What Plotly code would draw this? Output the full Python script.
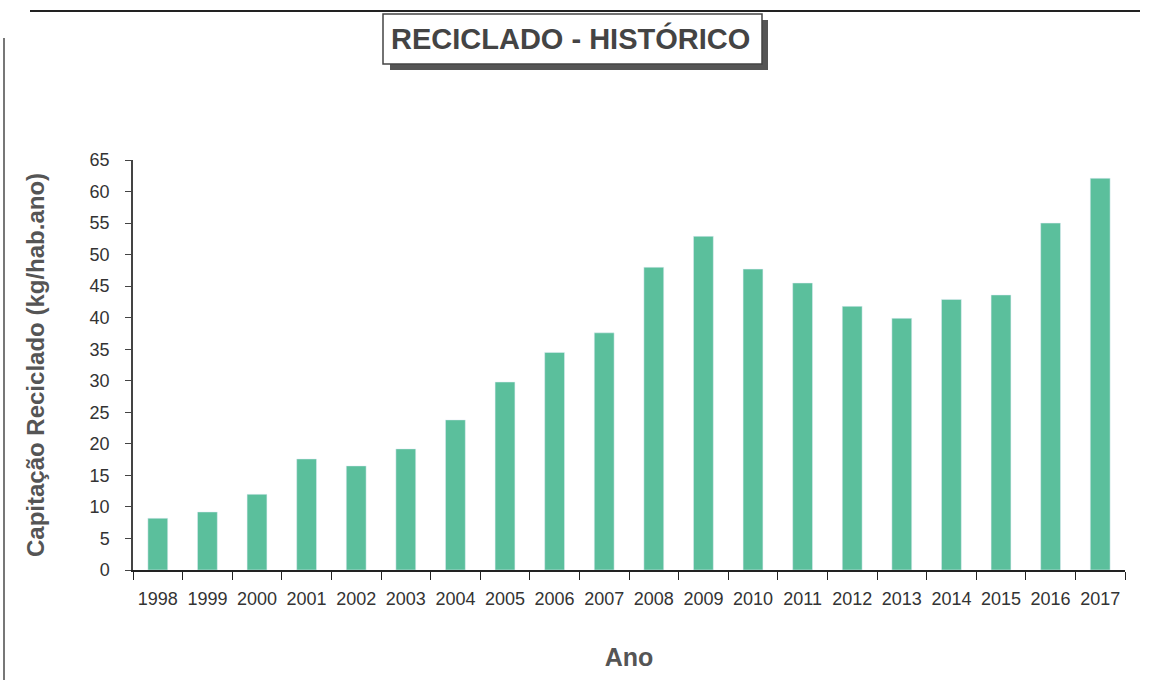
import plotly.graph_objects as go

anos = ["1998", "1999", "2000", "2001", "2002", "2003", "2004", "2005", "2006", "2007",
        "2008", "2009", "2010", "2011", "2012", "2013", "2014", "2015", "2016", "2017"]
capitacao = [8.2, 9.2, 12.0, 17.6, 16.5, 19.2, 23.8, 29.8, 34.5, 37.6,
             48.0, 52.9, 47.7, 45.5, 41.8, 39.9, 42.9, 43.6, 55.0, 62.1]
y_ticks = list(range(0, 70, 5))

fig = go.Figure(go.Bar(x=anos, y=capitacao, marker_color="#5BBF9C", width=0.4))

fig.update_layout(
    width=1157, height=693,
    margin=dict(l=133, r=32, t=160, b=123),
    paper_bgcolor="white", plot_bgcolor="white",
    showlegend=False,
    font=dict(family="Liberation Sans, Arial", color="#333"),
)
fig.update_xaxes(
    type="category", showline=True, linecolor="#222", linewidth=1.5,
    ticks="outside", ticklen=8, tickcolor="#222", tickson="boundaries",
    ticklabelstandoff=12,
    tickfont=dict(size=18, family="Liberation Sans", color="#333"),
    title=dict(text="<b>Ano</b>", font=dict(size=25, family="Liberation Sans", color="#555"), standoff=40),
    showgrid=False,
)
fig.update_yaxes(
    range=[0, 65], tickvals=y_ticks, showline=True, linecolor="#444", linewidth=1.5,
    ticks="outside", ticklen=6, tickcolor="#444",
    ticklabelstandoff=12,
    tickfont=dict(size=18, family="Liberation Sans", color="#333"),
    title=dict(text="<b>Capitação Reciclado (kg/hab.ano)</b>",
               font=dict(size=24, family="Liberation Sans", color="#555"), standoff=38),
    showgrid=False, zeroline=False,
)

# title box with shadow
fig.add_shape(type="rect", xref="paper", yref="paper",
              x0=(390 - 133) / 992, x1=(768 - 133) / 992,
              y0=(570 - 70) / 410, y1=(570 - 20) / 410,
              fillcolor="#555", line=dict(width=0), layer="below")
fig.add_shape(type="rect", xref="paper", yref="paper",
              x0=(383 - 133) / 992, x1=(762 - 133) / 992,
              y0=(570 - 64) / 410, y1=(570 - 14) / 410,
              fillcolor="white", line=dict(color="#444", width=1.5), layer="below")
fig.add_annotation(text="<b>RECICLADO - HISTÓRICO</b>", xref="paper", yref="paper",
                   x=(570 - 133) / 992, y=(570 - 39) / 410, showarrow=False,
                   xanchor="center", yanchor="middle",
                   font=dict(size=29, family="Liberation Sans", color="#444"))

# outer frame lines
fig.add_shape(type="line", xref="paper", yref="paper",
              x0=(30 - 133) / 992, x1=(1140 - 133) / 992,
              y0=(570 - 11) / 410, y1=(570 - 11) / 410,
              line=dict(color="#222", width=2))
fig.add_shape(type="line", xref="paper", yref="paper",
              x0=(4 - 133) / 992, x1=(4 - 133) / 992,
              y0=(570 - 38) / 410, y1=(570 - 680) / 410,
              line=dict(color="#777", width=2))

fig.write_html("out.html", config={"displayModeBar": False},
               post_script="document.body.style.margin='0';")
